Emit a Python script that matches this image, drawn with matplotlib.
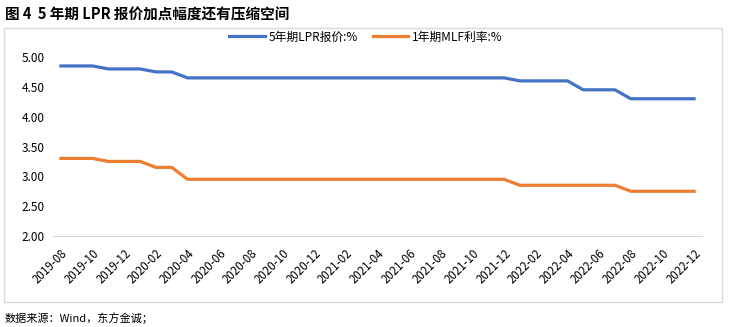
import matplotlib

matplotlib.use("Agg")
import matplotlib.pyplot as plt
from matplotlib.patches import Rectangle
import numpy as np

plt.rcParams["font.family"] = ["Noto Sans CJK SC", "DejaVu Sans"]
plt.rcParams["axes.unicode_minus"] = False

# 2019-08 .. 2022-12 monthly
months = [f"{y}-{m:02d}" for y in range(2019, 2023) for m in range(1, 13)]
months = months[months.index("2019-08"):months.index("2022-12") + 1]

lpr_5y = [4.85, 4.85, 4.85, 4.80, 4.80, 4.80, 4.75, 4.75,
          4.65, 4.65, 4.65, 4.65, 4.65, 4.65, 4.65, 4.65, 4.65, 4.65,
          4.65, 4.65, 4.65, 4.65, 4.65, 4.65, 4.65, 4.65, 4.65, 4.65, 4.65,
          4.60, 4.60, 4.60, 4.60, 4.45, 4.45, 4.45,
          4.30, 4.30, 4.30, 4.30, 4.30]
mlf_1y = [3.30, 3.30, 3.30, 3.25, 3.25, 3.25, 3.15, 3.15,
          2.95, 2.95, 2.95, 2.95, 2.95, 2.95, 2.95, 2.95, 2.95, 2.95,
          2.95, 2.95, 2.95, 2.95, 2.95, 2.95, 2.95, 2.95, 2.95, 2.95, 2.95,
          2.85, 2.85, 2.85, 2.85, 2.85, 2.85, 2.85,
          2.75, 2.75, 2.75, 2.75, 2.75]
yticks = [2.00, 2.50, 3.00, 3.50, 4.00, 4.50, 5.00]

W, H = 736, 327
fig = plt.figure(figsize=(W / 100, H / 100), dpi=100)


def px(x0, y0, x1, y1):
    return [x0 / W, 1 - y1 / H, (x1 - x0) / W, (y1 - y0) / H]


# outer chart frame
fig.patches.append(Rectangle((4 / W, 1 - 302 / H), 718 / W, 274 / H,
                             transform=fig.transFigure, fill=False,
                             edgecolor="#D9D9D9", linewidth=1))

ax = fig.add_axes(px(53, 57, 702, 236))
x = np.arange(len(months))
ax.plot(x, lpr_5y, color="#4472C4", linewidth=2.3, label="5年期LPR报价:%")
ax.plot(x, mlf_1y, color="#ED7D31", linewidth=2.3, label="1年期MLF利率:%")

ax.set_xlim(-0.5, len(months) - 0.5)
ax.set_ylim(2.0, 5.0)
ax.set_yticks(yticks)
ax.set_yticklabels([f"{v:.2f}" for v in yticks], fontsize=8.5)
ax.set_xticks(x[::2])
ax.set_xticklabels(months[::2], fontsize=8.3, rotation=45, ha="right",
                   va="top", rotation_mode="anchor")
ax.tick_params(length=0)
ax.tick_params(axis="y", pad=6)
ax.tick_params(axis="x", pad=8)
for s in ("top", "left", "right"):
    ax.spines[s].set_visible(False)
ax.spines["bottom"].set_color("#D9D9D9")

ax.legend(loc="center", bbox_to_anchor=(366 / W, (H - 37) / H),
          bbox_transform=fig.transFigure,
          ncol=2, frameon=False, fontsize=8.5, handlelength=3.0, columnspacing=1.3,
          handletextpad=0.3)

fig.text(5 / W, 1 - 15 / H, "图 4  5 年期 LPR 报价加点幅度还有压缩空间", fontsize=10.5,
         fontweight="bold", va="center", ha="left")
fig.text(5 / W, 1 - 318 / H, "数据来源：Wind，东方金诚；", fontsize=8, va="center", ha="left")

fig.savefig("out.png", dpi=100)
